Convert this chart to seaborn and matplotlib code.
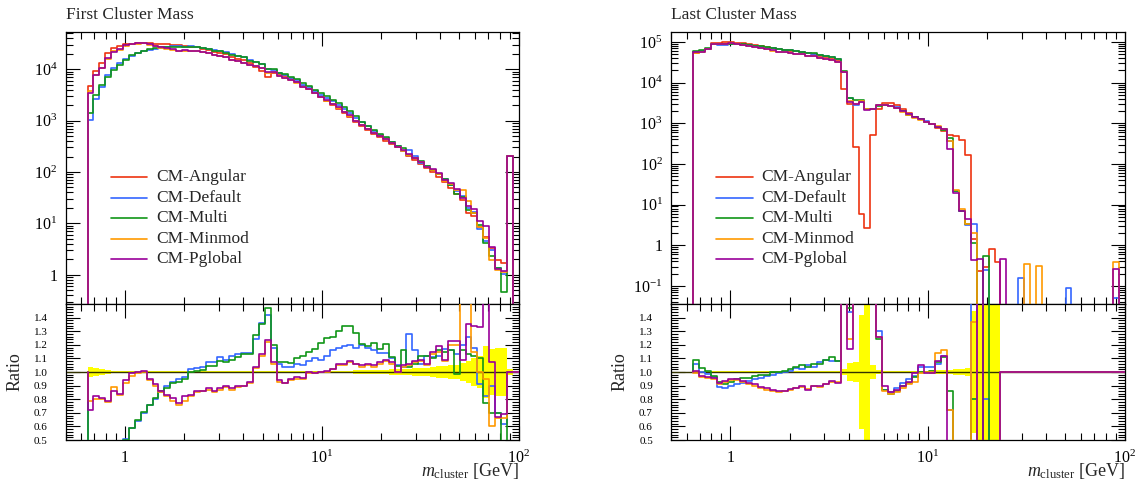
import numpy as np
import pandas as pd
import matplotlib
matplotlib.use("Agg")
import matplotlib.pyplot as plt
import seaborn as sns
from matplotlib.ticker import LogLocator, FixedLocator, MultipleLocator, FuncFormatter, NullFormatter

sns.set_style("ticks")
plt.rcParams["font.family"] = ["Liberation Serif", "DejaVu Serif"]
plt.rcParams["mathtext.fontset"] = "custom"
plt.rcParams["mathtext.rm"] = "Liberation Serif"
plt.rcParams["mathtext.it"] = "Liberation Serif:italic"

# ---------------- data ----------------
series = ["CM-Angular", "CM-Default", "CM-Multi", "CM-Minmod", "CM-Pglobal"]
colors = ["#EE3311", "#3366FF", "#109618", "#FF9900", "#990099"]
titles = ["First Cluster Mass", "Last Cluster Mass"]
xlabel = r"$m_{\rm cluster}$ [GeV]"

# 73 log-spaced bins: log10 edges from -0.19 in steps of 0.03 (up to 100 GeV)
log_edge_lo, log_edge_step, n_bins = -0.19, 0.03, 73

# ----- First cluster mass: reference (CM-Angular) -----
ref_first = [
    4750, 9440, 13100, 20600, 25700, 28900, 30800, 31600, 31800, 32000,
    32000, 31500, 31000, 30500, 30000, 29500, 28500, 27500, 26500, 25000,
    23500, 22000, 20500, 19500, 17500, 16000, 15000, 13000, 11000, 9300,
    7000, 8300, 8000, 7400, 6500, 5760, 4750, 4100, 3430, 2870,
    2460, 2030, 1700, 1400, 1170, 948, 792, 662, 553, 470,
    398, 349, 305, 251, 207, 173, 143, 119, 98, 80,
    63, 49, 38, 28, 16, 14, 8.5, 5.5, 3.3, 1.9,
    1.7, 207, 0]
# ratios to CM-Angular
ratio_first_default = [
    0.22, 0.28, 0.35, 0.38, 0.41, 0.45, 0.51, 0.585, 0.64, 0.70,
    0.755, 0.80, 0.85, 0.90, 0.93, 0.945, 0.965, 1.02, 1.03, 1.04,
    1.075, 1.07, 1.11, 1.09, 1.12, 1.135, 1.14, 1.14, 1.24, 1.36,
    1.42, 1.18, 1.06, 1.04, 1.04, 1.06, 1.05, 1.08, 1.10, 1.09,
    1.12, 1.16, 1.18, 1.19, 1.20, 1.18, 1.20, 1.18, 1.16, 1.14,
    1.14, 1.10, 1.05, 1.04, 1.28, 1.16, 1.06, 1.12, 1.11, 1.12,
    1.17, 1.16, 1.13, 1.20, 1.26, 1.18, 0.91, 0.82, 0.90, 0.70,
    0.62, 1.0, 1.0]
ratio_first_multi = [
    0.29, 0.33, 0.38, 0.35, 0.38, 0.42, 0.50, 0.59, 0.645, 0.705,
    0.76, 0.81, 0.86, 0.88, 0.92, 0.93, 0.95, 1.00, 1.01, 1.015,
    1.045, 1.045, 1.08, 1.07, 1.09, 1.11, 1.135, 1.13, 1.27, 1.35,
    1.47, 1.20, 1.07, 1.07, 1.065, 1.10, 1.12, 1.15, 1.17, 1.21,
    1.25, 1.26, 1.30, 1.335, 1.34, 1.29, 1.205, 1.19, 1.21, 1.17,
    1.205, 1.11, 1.045, 1.16, 1.04, 1.06, 1.12, 1.12, 1.10, 1.16,
    1.15, 1.16, 0.985, 1.16, 1.13, 1.12, 1.10, 0.77, 0.70, 0.70,
    0.27, 1.0, 1.0]
ratio_first_minmod = [
    0.79, 0.80, 0.80, 0.78, 0.89, 0.83, 0.92, 0.97, 0.99, 1.00,
    0.94, 0.90, 0.85, 0.82, 0.79, 0.76, 0.79, 0.82, 0.85, 0.86,
    0.87, 0.85, 0.87, 0.89, 0.87, 0.89, 0.90, 0.92, 1.03, 1.12,
    1.22, 1.06, 0.93, 0.92, 0.94, 0.95, 0.95, 0.99, 0.99, 1.00,
    1.00, 1.02, 1.05, 1.05, 1.07, 1.06, 1.04, 1.05, 1.04, 1.06,
    1.08, 1.06, 1.00, 1.04, 1.05, 1.07, 1.08, 1.05, 1.13, 1.15,
    1.08, 1.20, 1.20, 1.60, 1.70, 1.15, 1.00, 0.95, 0.60, 0.66,
    0.66, 1.0, 1.0]
ratio_first_pglobal = [
    0.72, 0.82, 0.81, 0.79, 0.86, 0.84, 0.94, 0.99, 1.00, 1.005,
    0.95, 0.91, 0.86, 0.83, 0.81, 0.77, 0.82, 0.83, 0.86, 0.86,
    0.88, 0.86, 0.88, 0.90, 0.88, 0.90, 0.90, 0.93, 1.04, 1.13,
    1.235, 1.07, 0.94, 0.92, 0.95, 0.96, 0.955, 1.00, 0.995, 1.00,
    1.005, 1.02, 1.06, 1.06, 1.08, 1.06, 1.05, 1.06, 1.05, 1.07,
    1.09, 1.07, 1.00, 1.05, 1.06, 1.08, 1.09, 1.06, 1.15, 1.19,
    1.09, 1.23, 1.23, 1.09, 1.35, 1.34, 1.33, 1.60, 1.07, 0.67,
    0.69, 1.0, 1.0]
relerr_first = [
    0.04, 0.03, 0.02, 0.015, 0.01, 0.008, 0.007, 0.006, 0.006, 0.006,
    0.006, 0.006, 0.006, 0.006, 0.006, 0.006, 0.006, 0.006, 0.006, 0.006,
    0.006, 0.006, 0.006, 0.006, 0.006, 0.006, 0.006, 0.006, 0.006, 0.006,
    0.007, 0.007, 0.007, 0.007, 0.007, 0.007, 0.007, 0.008, 0.008, 0.008,
    0.008, 0.009, 0.01, 0.01, 0.011, 0.012, 0.013, 0.014, 0.015, 0.016,
    0.018, 0.019, 0.02, 0.022, 0.025, 0.028, 0.03, 0.033, 0.04, 0.042,
    0.045, 0.05, 0.055, 0.065, 0.08, 0.1, 0.12, 0.19, 0.17, 0.18,
    0.18, 0.02, 0.0]

# ----- Last cluster mass: reference (CM-Angular) -----
ref_last = [
    54700, 60000, 68500, 94400, 96200, 98000, 98000, 96200, 92700, 89000,
    84000, 79500, 75100, 71000, 67500, 64500, 61500, 58500, 55500, 52500,
    49500, 46000, 42500, 39000, 35000, 7130, 2930, 262, 5.8, 2.6,
    507, 2200, 3200, 3100, 2800, 2200, 1780, 1450, 1250, 1080,
    950, 750, 630, 520, 490, 380, 170, 1.46, 0.23, 0.3,
    0.81, 0.39, 0, 0, 0, 0, 0, 0, 0, 0,
    0, 0, 0, 0, 0, 0, 0, 0, 0, 0,
    0, 0, 0]
ratio_last_default = [
    1.06, 1.00, 0.985, 0.96, 0.89, 0.88, 0.90, 0.91, 0.92, 0.935,
    0.945, 0.955, 0.97, 0.98, 0.99, 1.00, 1.01, 1.03, 1.02, 1.05,
    1.04, 1.07, 1.09, 1.08, 1.08, 2.6, 1.44, 11.0, 580, 850,
    4.5, 1.30, 0.87, 0.85, 0.88, 0.92, 0.95, 0.97, 1.04, 1.04,
    1.04, 1.06, 1.12, 0.72, 0.043, 0.018, 0.019, 2.3, 0.0, 0.8,
    0.0, 0.0, 1, 1, 1, 1, 1, 1, 1, 1,
    1, 1, 1, 1, 1, 1, 1, 1, 1, 1,
    1, 1, 1]
ratio_last_multi = [
    1.085, 1.03, 1.01, 0.97, 0.93, 0.91, 0.93, 0.95, 0.955, 0.955,
    0.97, 0.975, 0.98, 1.00, 1.00, 1.01, 1.02, 1.04, 1.05, 1.04,
    1.06, 1.06, 1.09, 1.11, 1.08, 2.7, 1.47, 14.0, 630, 880,
    4.5, 1.24, 0.87, 0.84, 0.86, 0.90, 0.92, 0.96, 1.00, 1.00,
    1.01, 1.07, 1.11, 0.86, 0.043, 0.018, 0.02, 0.8, 0.0, 1.8,
    0.0, 0.0, 1, 1, 1, 1, 1, 1, 1, 1,
    1, 1, 1, 1, 1, 1, 1, 1, 1, 1,
    1, 1, 1]
ratio_last_minmod = [
    0.995, 0.96, 0.955, 0.95, 0.91, 0.93, 0.94, 0.94, 0.93, 0.915,
    0.90, 0.885, 0.87, 0.86, 0.85, 0.86, 0.87, 0.88, 0.89, 0.875,
    0.895, 0.89, 0.91, 0.93, 0.925, 2.6, 1.24, 11.5, 600, 850,
    4.5, 1.26, 0.86, 0.84, 0.85, 0.88, 0.91, 0.93, 0.99, 1.00,
    1.00, 1.14, 1.16, 0.72, 0.048, 0.02, 0.02, 1.37, 0.0, 0.0,
    0.0, 0.0, 1, 1, 1, 1, 1, 1, 1, 1,
    1, 1, 1, 1, 1, 1, 1, 1, 1, 1,
    1, 1, 1]
ratio_last_pglobal = [
    1.01, 0.97, 0.965, 0.955, 0.92, 0.935, 0.945, 0.945, 0.935, 0.92,
    0.91, 0.89, 0.88, 0.87, 0.86, 0.86, 0.875, 0.88, 0.895, 0.87,
    0.90, 0.895, 0.915, 0.935, 0.92, 2.6, 1.17, 11.5, 580, 840,
    4.5, 1.26, 0.90, 0.85, 0.87, 0.90, 0.93, 0.995, 1.05, 0.995,
    0.99, 1.08, 1.12, 0.45, 0.04, 0.018, 0.026, 0.29, 2.0, 0.0,
    0.0, 0.0, 1, 1, 1, 1, 1, 1, 1, 1,
    1, 1, 1, 1, 1, 1, 1, 1, 1, 1,
    1, 1, 1]
# entries in bins where CM-Angular is empty: {bin index: value}
extra_last_default = {55: 0.158, 63: 0.089, 71: 0.05}
extra_last_multi = {}
extra_last_minmod = {56: 0.35, 58: 0.31, 71: 0.39}
extra_last_pglobal = {52: 0.47, 71: 0.257}
relerr_last = [
    0.004, 0.004, 0.004, 0.004, 0.004, 0.004, 0.004, 0.004, 0.004, 0.004,
    0.004, 0.004, 0.004, 0.004, 0.004, 0.004, 0.004, 0.004, 0.004, 0.004,
    0.004, 0.004, 0.004, 0.005, 0.006, 0.02, 0.065, 0.07, 0.42, 0.6,
    0.05, 0.012, 0.01, 0.01, 0.01, 0.01, 0.01, 0.01, 0.01, 0.01,
    0.012, 0.015, 0.015, 0.015, 0.02, 0.025, 0.03, 0.45, 0.6, 0.6,
    0.6, 0.6, 0, 0, 0, 0, 0, 0, 0, 0,
    0, 0, 0, 0, 0, 0, 0, 0, 0, 0,
    0, 0, 0]

panels = [
    dict(title=titles[0], ref=ref_first,
         ratios=[ratio_first_default, ratio_first_multi, ratio_first_minmod, ratio_first_pglobal],
         extras=[{}, {}, {}, {}], err=relerr_first, ylim=(0.27, 5.3e4)),
    dict(title=titles[1], ref=ref_last,
         ratios=[ratio_last_default, ratio_last_multi, ratio_last_minmod, ratio_last_pglobal],
         extras=[extra_last_default, extra_last_multi, extra_last_minmod, extra_last_pglobal],
         err=relerr_last, ylim=(0.036, 1.76e5)),
]

edges = 10 ** (log_edge_lo + log_edge_step * np.arange(n_bins + 1))

# ---------------- figure ----------------
W, H = 1142, 484
fig = plt.figure(figsize=(W / 100, H / 100), dpi=100)
axes_px = [(65.7, 518.7), (671.0, 1124.7)]
main_y = (32, 304)
ratio_y = (304, 440)


def fx(px):
    return px / W


def fy(py):
    return 1 - py / H


def draw_step(ax, vals, color, lw, start, zorder):
    vals = np.asarray(vals, dtype=float)
    xs = np.concatenate([[edges[0]], edges])
    ys = np.concatenate([[start], vals, [vals[-1]]])
    df = pd.DataFrame({"x": xs, "y": ys})
    sns.lineplot(data=df, x="x", y="y", ax=ax, color=color, lw=lw,
                 drawstyle="steps-post", estimator=None, sort=False,
                 errorbar=None, zorder=zorder)


def log_fmt(v, pos):
    if v <= 0:
        return ""
    e = int(round(np.log10(v)))
    if abs(v - 10 ** e) > 1e-9 * 10 ** e:
        return ""
    return "1" if e == 0 else r"$10^{%d}$" % e


tick_kw = dict(direction="in", top=True, right=True, colors="black")
floor = 1e-6

for p, (x0, x1) in zip(panels, axes_px):
    ax = fig.add_axes([fx(x0), fy(main_y[1]), fx(x1 - x0), (main_y[1] - main_y[0]) / H])
    rx = fig.add_axes([fx(x0), fy(ratio_y[1]), fx(x1 - x0), (ratio_y[1] - ratio_y[0]) / H])
    for a in (ax, rx):
        a.set_xscale("log")
        a.set_xlim(0.5, 100)
    ax.set_yscale("log")
    ax.set_ylim(*p["ylim"])
    rx.set_ylim(0.5, 1.5)

    ref = np.asarray(p["ref"], dtype=float)
    mains = [ref]
    for r, ex in zip(p["ratios"], p["extras"]):
        m = ref * np.asarray(r, dtype=float)
        for k, v in ex.items():
            m[k] = v
        mains.append(m)

    # main panel
    for i, (m, c) in enumerate(zip(mains, colors)):
        draw_step(ax, np.where(m > 0, m, floor), c, 1.2, floor, 3 + i)

    # ratio panel: reference band and line
    err = np.asarray(p["err"], dtype=float)
    lo = np.append(1 - err, 1 - err[-1])
    hi = np.append(1 + err, 1 + err[-1])
    rx.fill_between(edges, lo, hi, step="post", color="#FFFF00", lw=0, zorder=1)
    rx.axhline(1.0, color="#333300", lw=1.0, zorder=2)
    for i, (r, c) in enumerate(zip(p["ratios"], colors[1:])):
        draw_step(rx, r, c, 1.2, 1.0, 4 + i)

    # axes styling
    for a in (ax, rx):
        for s in a.spines.values():
            s.set_linewidth(0.9)
            s.set_color("black")
        a.xaxis.set_major_locator(FixedLocator([1, 10, 100]))
        a.xaxis.set_minor_locator(LogLocator(base=10, subs=np.arange(2, 10), numticks=20))
        a.tick_params(which="major", length=10, width=0.8, **tick_kw)
        a.tick_params(which="minor", length=5, width=0.8, **tick_kw)
        a.set_xlabel("")
        a.set_ylabel("")
        legend = a.get_legend()
        if legend is not None:
            legend.remove()
    ax.yaxis.set_major_locator(LogLocator(base=10, numticks=20))
    ax.yaxis.set_minor_locator(LogLocator(base=10, subs=np.arange(2, 10), numticks=20))
    ax.yaxis.set_major_formatter(FuncFormatter(log_fmt))
    ax.yaxis.set_minor_formatter(NullFormatter())
    ax.xaxis.set_major_formatter(NullFormatter())
    ax.xaxis.set_minor_formatter(NullFormatter())
    ax.tick_params(axis="y", labelsize=11.5, pad=6)
    ax.set_ylim(*p["ylim"])

    rx.yaxis.set_major_locator(FixedLocator(np.round(np.arange(0.5, 1.45, 0.1), 1)))
    rx.yaxis.set_minor_locator(MultipleLocator(0.02))
    rx.yaxis.set_major_formatter(FuncFormatter(lambda v, pos: "%.1f" % v))
    rx.xaxis.set_major_formatter(FuncFormatter(log_fmt))
    rx.xaxis.set_minor_formatter(NullFormatter())
    rx.tick_params(axis="y", labelsize=8, pad=13)
    rx.tick_params(axis="x", labelsize=11.5, pad=7)
    rx.set_ylim(0.5, 1.5)
    rx.set_xlim(0.5, 100)

    # y label of the ratio panel, x label, title
    fig.text(fx(x0 - 51), fy(372), "Ratio", fontsize=13, rotation=90,
             ha="center", va="center")
    fig.text(fx(x1), fy(476), xlabel, fontsize=13, ha="right", va="baseline")
    fig.text(fx(x0), fy(19), p["title"], fontsize=12.5, ha="left", va="baseline")

    # legend (drawn by hand, like the original)
    for k, (name, c) in enumerate(zip(series, colors)):
        yy = 0.467 - k * 0.0755
        ax.plot([0.099, 0.18], [yy, yy], transform=ax.transAxes, color=c, lw=1.2)
        ax.text(0.199, yy, name, transform=ax.transAxes, fontsize=12.5, va="center", ha="left")

fig.savefig("out.png", dpi=100)
